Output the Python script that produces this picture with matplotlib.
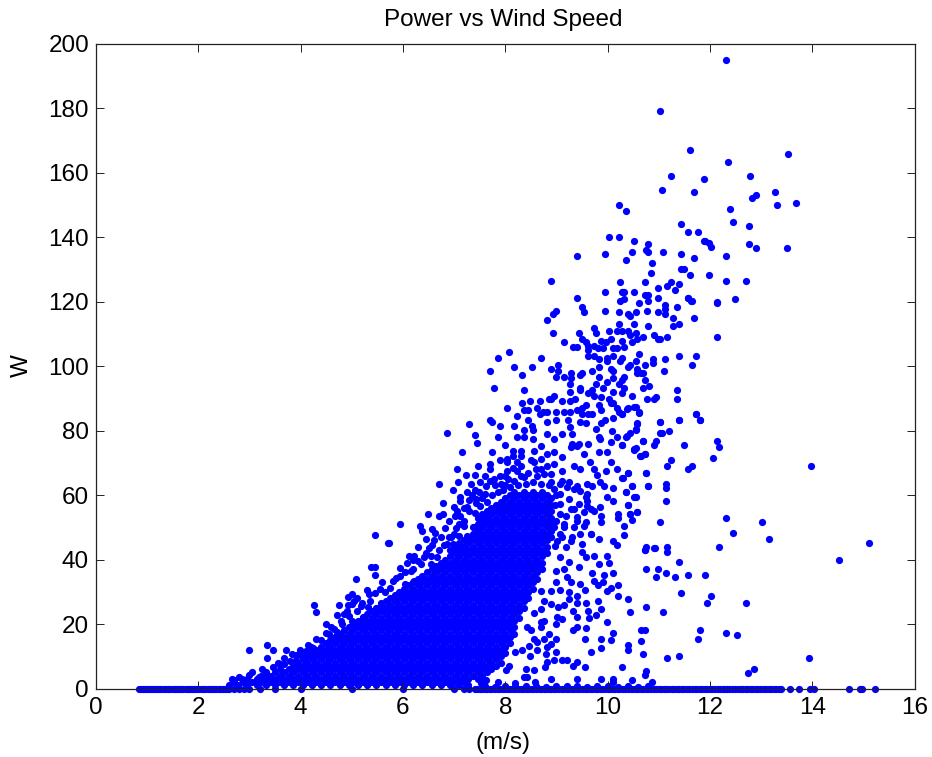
import matplotlib
matplotlib.use("Agg")
import matplotlib.pyplot as plt

title = "Power vs Wind Speed"
x_label = "(m/s)"
y_label = "W"
x_ticks = [0, 2, 4, 6, 8, 10, 12, 14, 16]
y_ticks = [0, 20, 40, 60, 80, 100, 120, 140, 160, 180, 200]

# Points sitting on the zero line
zero_x = [0.85,0.92,1.0,1.08,1.15,1.24,1.33,1.4,1.5,1.58,1.66,1.75,1.83,1.92,2.0,2.1,2.18,2.27,2.35,2.44,2.52,2.6,
          2.7,2.8,2.9,3.0,3.2,3.5,4.0,5.0,6.0,7.0,7.2,7.3,7.4,7.5,7.6,7.7,7.8,7.9,8.0,8.1,8.2,8.3,8.4,8.5,8.6,8.7,8.8,8.9,
          9.0,9.1,9.2,9.3,9.4,9.5,9.6,9.7,9.8,9.9,10.0,10.1,10.2,10.3,10.4,10.5,10.6,10.7,10.8,10.9,11.0,11.1,11.2,11.3,
          11.4,11.5,11.6,11.7,11.8,11.9,12.0,12.1,12.2,12.3,12.38,12.5,12.6,12.7,12.8,12.9,13.0,13.1,13.2,13.3,13.4,
          13.57,13.75,13.96,14.03,14.71,14.93,14.97,15.23,
          0.88,0.96,1.04,1.12,1.2,1.28,1.36,1.45,1.54,1.62,1.7,1.79,1.87,1.96,2.05,2.14,2.22,2.31,2.4,2.48,2.56,
          7.45,7.55,7.65,7.75,7.85,7.95,8.05,8.15,8.25,8.35,8.45,8.55,8.65,8.75,8.85,8.95,9.05,9.15,9.25,9.35,9.45,9.55,9.65,9.75,
          9.85,9.95,10.05,10.15,10.25,10.35,10.45,10.55,10.65,10.75,10.85,10.95,11.05,11.15,11.25,11.35,11.45,11.55,11.65,11.75,
          11.85,11.95,12.05,12.15,12.25,12.34,12.44,12.55,12.65,12.75,12.85,12.95,13.05,13.15,13.25,13.35]
near_zero_x = [7.6,7.8,8.0,8.2,8.4,8.6,8.8,9.0,9.2,9.4,9.6,9.8,10.0,10.2,10.4,10.6,10.8]
near_zero_y = [0.8,0.6,0.9,0.7,0.8,0.9,0.6,0.8,0.7,0.9,0.6,0.8,0.7,0.6,0.8,0.6,0.7]

# Sparse upper points, read as (speed, power)
top_points = [(12.32,195.1),(11.02,179.3),(11.61,167.0),(13.53,165.8),(12.35,163.5),(11.24,158.9),(11.88,158.2),(12.79,158.9),
(11.06,154.7),(11.69,154.1),(13.27,154.1),(12.82,152.3),(12.90,153.0),(13.31,150.1),(13.68,150.6),(12.39,148.8),(10.36,148.2),
(10.23,150.1),(12.46,144.7),(11.43,144.2),(12.76,143.6),(11.58,141.8),(11.77,141.8),(10.51,138.9),(11.88,138.9),(11.91,138.9),
(11.98,138.4),(12.02,137.1),(12.76,137.8),(12.90,136.6),(13.50,136.6),(10.80,137.8),(10.76,136.0),(10.80,135.4),(10.47,135.4),
(11.09,135.4),(11.43,134.8),(12.32,134.3),(11.69,133.6),(10.36,133.0),(10.87,131.9),(11.43,130.1),(11.50,130.1),(10.84,129.0),
(11.61,128.4),(11.98,128.4),(12.32,126.6),(12.71,126.6),(10.73,126.0),(11.24,126.0),(11.17,124.9),(11.39,125.5),(11.32,123.7),
(10.98,124.3),(10.51,123.1),(10.31,123.1),(10.73,122.0),(10.80,122.0),(10.98,121.3),(11.58,121.3),(11.64,120.3),(12.49,120.8),
(12.13,119.8),(10.03,140.1),(10.22,140.1),(9.40,134.2),(9.95,134.9),(8.89,126.6),(10.25,126.0),(9.95,123.1),(10.29,123.1),
(10.33,123.1),(9.40,121.3),(10.25,120.2),(10.33,120.8)]

# Upper middle of the cloud
mid_points = [(10.62,119.6),(10.80,120.2),(9.51,118.4),(9.54,116.7),(9.00,117.3),(8.93,116.2),(8.81,114.4),(9.95,117.3),(10.22,116.7),
(10.40,116.2),(10.44,115.5),(10.55,116.7),(10.77,117.3),(10.98,116.7),(11.13,119.1),(11.13,117.8),(11.13,116.2),(11.35,118.4),
(11.28,114.9),(11.39,113.2),(11.28,112.5),(11.69,114.9),(12.13,119.6),(12.13,109.1),(11.58,121.3),(11.65,120.2),(10.22,113.2),
(10.51,113.2),(10.80,112.5),(8.93,110.3),(9.44,110.3),(9.73,112.0),(9.77,110.3),(10.03,110.9),(10.18,110.9),(10.29,110.9),
(10.40,110.9),(10.44,109.6),(10.55,110.3),(10.58,108.5),(10.69,109.1),(10.91,109.6),(10.98,108.5),(11.02,108.5),(11.17,109.1),
(9.51,108.5),(9.58,107.4),(9.62,106.2),(9.62,105.0),(9.73,106.2),(9.81,105.6),(9.88,107.9),(9.96,107.4),(9.92,105.6),(10.07,108.5),
(10.29,107.9),(10.33,106.1),(10.47,107.4),(9.15,107.4),(9.33,106.1),(9.40,106.1),(10.10,105.6),(10.18,105.6),(8.07,104.4),(7.85,102.6),
(8.70,102.6),(9.62,103.2),(9.73,103.2),(9.84,102.1),(9.99,102.7),(9.99,101.5),(10.10,103.2),(10.29,102.7),(10.25,101.5),(10.62,103.8),
(10.55,101.5),(10.44,100.3),(10.40,99.7),(10.88,102.1),(10.88,100.9),(11.13,102.1),(11.39,103.2),(11.73,103.2),(11.65,100.3),(11.10,98.6),
(10.73,100.3),(10.58,99.1),(10.66,98.0),(10.58,98.0),(10.69,98.0),(8.18,99.7),(8.52,99.7),(7.70,98.6),(8.33,97.3),(8.89,99.1),(9.04,100.3),
(9.04,98.6),(9.00,96.8),(9.15,96.8),(9.29,98.0),(9.29,96.2),(9.26,94.5),(9.26,92.1),(9.47,97.3),(9.51,98.0),(9.69,98.6),(9.84,99.7),
(9.84,96.8),(10.07,99.1),(10.10,98.6),(10.10,96.2),(10.33,96.8),(10.29,95.7),(10.22,94.5),(9.99,95.0),(9.92,93.3),(9.77,94.5),(10.73,95.7),
(10.81,93.9),(10.70,93.3),(7.78,93.3),(8.37,92.7),(9.47,93.3),(9.47,92.7),(9.69,92.7),(9.62,91.6),(9.73,90.9),(10.33,93.3),(10.29,91.6),
(10.10,92.1),(10.48,90.9),(11.35,92.7),(11.35,89.8),(10.77,89.8),(10.91,89.8),(10.95,90.4),(8.96,90.9),(8.89,89.8),(8.85,89.8),(8.48,89.2),
(8.67,89.2),(8.33,88.6),(9.11,89.2),(9.26,89.2),(9.36,89.8),(9.88,90.4),(10.03,89.8),(10.07,88.7),(10.10,88.7),(8.03,86.9),(8.37,86.3),
(8.44,86.3),(8.63,86.9),(8.74,85.7),(8.82,85.7),(8.67,85.2),(9.00,85.7),(9.00,83.4),(9.15,85.7),(9.26,85.7),(9.41,86.3),(9.51,86.9),(9.58,88.0),
(9.51,85.2),(9.62,85.2),(9.69,85.2),(9.84,88.0),(9.88,86.3),(10.18,86.9),(10.22,85.7),(10.29,85.2),(10.40,86.9),(10.55,87.5),(10.62,85.7),
(11.73,85.2),(11.80,83.4),(7.70,83.4),(7.74,82.8),(7.89,81.6),(8.18,81.6),(8.22,84.5),(8.52,81.6),(8.44,83.4),(8.82,82.8),(9.22,83.4),(9.26,81.0),
(9.47,82.8),(9.58,82.3),(9.77,80.5),(9.95,83.4),(9.88,82.3),(10.10,83.9),(10.58,82.3),(11.02,82.8),(11.39,83.4)]

# Shoulder of the cloud above the solid core
shoulder_points = [(6.86,79.2),(7.30,82.1),(7.41,78.7),(7.45,76.3),(7.85,78.0),(8.00,75.7),(8.22,78.0),(8.37,80.2),(8.37,77.9),(8.55,80.2),(8.55,77.4),
(8.82,79.0),(8.95,77.4),(9.11,79.0),(9.31,79.0),(9.31,75.9),(9.44,75.9),(9.62,75.9),(9.83,77.9),(9.86,77.4),(10.09,79.8),(10.18,78.0),(10.29,75.7),
(10.38,78.5),(10.55,80.2),(10.69,76.9),(10.06,76.4),(7.15,73.3),(7.74,73.3),(8.15,73.8),(8.30,73.8),(8.15,72.2),(8.30,72.2),(7.89,70.9),(8.04,71.2),
(8.04,70.2),(8.22,70.2),(8.56,73.8),(8.69,75.3),(8.82,72.8),(8.95,73.3),(9.11,71.7),(9.28,74.8),(9.41,75.3),(9.54,72.8),(9.83,73.3),(9.99,73.3),
(9.65,70.4),(10.06,70.4),(10.51,74.3),(10.74,72.8),(10.64,72.2),(7.06,68.1),(7.47,69.1),(7.70,69.7),(7.70,68.1),(7.23,66.4),(7.41,66.4),(7.78,65.0),
(8.04,67.6),(8.22,67.6),(8.56,70.2),(8.69,71.2),(8.82,69.1),(8.95,69.7),(9.11,67.6),(9.34,69.1),(9.47,68.1),(9.73,68.1),(9.96,67.5),(10.18,68.1),
(10.40,67.0),(10.76,67.0),(9.80,66.4),(9.86,64.0),(10.30,65.2),(10.10,62.2),(10.47,62.8),(6.71,63.5),(7.08,64.0),(6.97,61.6),(7.34,63.5),(7.26,61.1),
(7.63,62.8),(7.41,61.6),(7.49,61.1),(7.91,63.5),(8.17,64.5),(8.37,65.5),(8.63,66.0),(8.89,66.6),(9.11,64.5),(9.24,64.0),(9.41,62.9),(9.60,63.5),
(9.70,62.9),(9.93,62.9),(10.36,61.1),(10.51,59.3),(10.55,59.3),(10.80,62.8),(6.78,57.6),(7.11,59.3),(7.11,58.1),(7.00,56.4),(7.26,56.4),(7.42,58.8),
(7.42,57.6),(9.98,59.3),(10.10,58.3),(9.58,59.3),(9.60,56.7),(9.86,56.2),(9.73,55.2),(10.40,56.9),(10.57,54.7),(10.44,54.0),(10.47,52.3),(10.20,54.0),
(10.20,52.9),(9.87,53.4),(9.87,51.7),(10.32,50.5),(10.32,47.5),(9.34,55.7),(9.18,53.6),(9.41,52.1),(9.58,51.6),(9.15,51.0),(6.49,54.0),(6.71,53.4),
(6.78,54.0),(5.94,51.0),(5.71,45.3),(6.34,50.5),(6.38,48.8),(6.56,49.4),(6.63,48.2),(6.82,49.9),(6.45,46.4),(6.56,44.6),(7.04,49.9),(7.19,50.5),
(7.01,53.6),(7.11,53.6),(7.39,50.0),(7.52,53.1),(7.65,54.2),(7.81,55.2),(6.93,46.9),(7.10,47.4),(7.26,47.4),(6.29,44.0),(6.08,38.9),(6.12,41.2),
(6.22,41.2),(6.41,40.7),(6.67,40.7),(6.87,44.9),(6.97,44.9),(7.13,43.8),(6.15,36.6),(6.35,38.6),(6.54,38.6),(5.86,34.2),(5.75,31.2),(6.04,32.5),
(6.22,33.5),(9.08,63.5),(9.21,62.4),(9.34,61.9),(9.47,61.4),(9.60,60.4),(9.08,60.4),(9.24,58.8),(9.44,57.3),(9.60,58.3),(9.08,57.3),(9.28,55.7),
(9.54,54.7),(9.67,55.7),(9.08,54.2),(9.41,53.1),(9.15,50.0),(9.34,50.0),(9.54,50.5),(9.08,48.0),(9.28,45.9),(9.47,48.0),(9.67,48.0),(9.02,45.9),(9.18,43.8)]

# Points along the left edge of the core
left_points = [(5.46,47.6),(5.72,45.3),(5.38,37.6),(5.46,37.6),(5.46,35.2),(5.08,34.1),(5.01,29.4),(4.93,28.3),(5.05,27.3),(5.34,29.4),(4.27,25.8),(4.31,23.6),
(4.75,25.8),(4.92,25.8),(5.01,26.3),(4.71,22.9),(4.90,24.2),(4.79,21.1),(4.49,20.0),(4.49,17.2),(4.72,17.5),(4.30,15.4),(4.20,13.0),(4.59,14.9),(3.35,13.6),
(3.46,11.9),(3.35,9.5),(2.99,11.9),(3.72,11.9),(3.98,11.9),(3.68,9.5),(3.84,10.8),(3.91,8.7),(4.09,9.0),(3.46,6.6),(3.68,7.7),(2.65,3.1),(2.80,3.7),(2.99,4.2),
(3.19,3.7),(3.32,4.5),(5.18,25.7),(5.31,25.2),(5.57,26.5),(5.01,21.1),(5.21,22.1)]

# Rough upper edge of the core
edge_points = [(3.6,7.5),(3.8,8.5),(4.0,10.5),(4.1,11.5),(4.25,12.5),(4.4,15),(4.55,17),(4.65,18.5),(4.8,20),(4.95,22.5),(5.1,24),(5.2,26.5),(5.35,27),(5.45,29.5),
(5.55,31),(5.65,30),(5.8,33.5),(5.95,35),(6.05,36),(6.2,37),(6.3,39.5),(6.45,42),(6.55,41),(6.7,43),(6.8,44.5),(6.9,47),(7.0,48),(7.1,51),(7.2,52),(7.3,55),(7.4,54.5),
(7.3,58.5),(7.5,56.5),(7.55,59),(7.65,58),(7.6,60.5),(7.75,60),(7.8,63),(7.85,61),(7.95,61.5),(8.0,63),(8.1,62.5),(8.05,65),(8.25,63),(8.3,66),(8.4,63.5),(8.45,67),
(8.55,64),(8.6,68),(8.7,63.5),(8.75,66.5),(8.85,63),(8.95,62),(9.0,60),(8.98,57),(9.0,52),(8.95,50),(8.7,68),(8.9,64),(8.3,69),(8.5,71),(8.15,68.5),(8.0,66),(7.9,66),
(7.6,66),(7.5,64),(7.7,64.5),(7.35,60),(7.2,56),(7.05,55),(6.9,52),(6.6,46),(6.75,47),(6.5,43.5),(6.2,40),(5.95,37.5),(5.6,33),(5.3,30.5),(5.1,28),(4.85,23),(4.6,19),
(4.15,13.5),(3.9,10.5),(3.55,8),(3.25,6),(3.05,5),(2.85,3),(2.7,2.5)]

# Scatter to the lower right of the core
right_points = [(13.97,69.2),(14.53,40.0),(15.12,45.2),(13.01,51.7),(13.16,46.4),(12.46,48.2),(12.32,52.8),(12.17,44.0),(12.06,71.5),(12.17,75.0),(12.13,76.8),
(11.72,85.1),(11.80,83.3),(11.50,75.7),(11.65,69.2),(11.57,68.0),(11.24,71.0),(11.17,69.2),(11.39,83.3),(11.20,79.8),(11.02,79.2),(11.06,79.2),(11.02,82.7),
(10.95,76.8),(10.91,75.7),(10.69,76.8),(10.55,80.4),(10.58,82.2),(10.36,78.0),(10.43,79.2),(10.29,75.7),(10.55,74.5),(10.51,73.9),(10.73,72.8),(10.66,72.2),
(10.62,85.6),(10.51,87.4),(10.38,86.7),(10.29,85.2),(10.76,67.0),(10.40,67.0),(10.29,65.2),(11.14,63.5),(11.14,62.3),(10.80,62.8),(10.47,62.8),(10.36,61.1),
(11.14,58.2),(10.40,57.0),(10.58,54.7),(10.43,54.0),(11.02,51.7),(10.76,44.0),(10.73,42.9),(10.91,43.5),(11.17,44.0),(11.17,42.3),(11.39,39.4),(10.76,37.0),
(10.98,37.0),(10.95,34.7),(11.14,35.9),(11.32,34.7),(11.57,35.2),(11.91,35.2),(11.43,29.5),(12.02,28.8),(11.95,26.5),(12.71,26.5),(10.40,27.7),(10.76,25.3),
(10.44,23.6),(11.09,23.6),(10.66,18.3),(10.73,18.3),(11.80,18.3),(11.76,15.4),(12.32,17.1),(12.53,16.5),(10.66,14.8),(10.40,13.6),(10.40,11.9),(10.69,10.8),
(11.17,9.5),(11.39,10.1),(13.94,9.5),(12.87,6.0),(12.75,4.9),(10.29,6.6),(10.76,5.5),(10.73,4.3),(10.47,2.5),(10.87,1.9),
(8.98,44.3),(9.11,46.9),(9.31,46.9),(9.50,44.9),(9.68,47.9),(9.84,46.4),(10.10,45.9),(10.18,44.6),(10.74,43.0),(10.92,43.5),(9.08,40.7),(9.24,39.4),(9.50,42.3),
(9.57,40.7),(9.73,41.2),(9.83,38.7),(9.99,41.2),(10.03,38.9),(9.00,36.6),(9.15,37.1),(9.44,37.6),(9.70,35.9),(10.10,35.9),(9.94,35.3),(9.00,33.0),(9.21,34.5),
(9.28,33.0),(9.47,32.5),(9.55,30.6),(9.73,33.5),(9.91,33.0),(9.81,32.0),(10.21,32.2),(10.06,31.2),(9.99,30.2),(10.21,28.8),(8.69,30.4),(8.89,30.4),(9.08,30.6),
(9.25,30.1),(9.41,28.8),(8.76,27.3),(8.89,26.3),(9.03,25.2),(9.15,26.0),(9.25,27.7),(9.41,26.5),(9.58,26.5),(9.81,27.1),(8.69,24.7),(8.56,23.4),(9.32,24.2),
(9.41,22.3),(9.62,24.2),(9.64,21.9),(9.77,22.9),(9.88,24.7),(8.43,19.0),(8.50,18.0),(8.69,20.6),(8.76,21.1),(8.69,19.0),(9.02,22.1),(9.11,21.6),(8.99,20.0),
(9.32,18.0),(9.41,19.0),(9.58,18.8),(9.99,20.6),(8.85,16.9),(8.76,15.4),(9.00,15.4),(9.55,15.4),(10.10,17.2),(9.87,15.4),(10.06,14.9),(8.56,15.4),(8.63,14.4),
(8.46,13.3),(8.82,12.8),(8.89,13.8),(8.79,10.7),(8.20,11.3),(8.33,11.8),(8.63,12.0),(9.00,11.3),(9.67,11.3),(9.88,12.5),(8.48,10.1),(8.82,8.2),(8.95,8.7),(9.11,8.7),
(9.21,8.9),(9.41,8.2),(9.33,7.1),(9.55,6.6),(8.77,6.6),(8.40,6.1),(8.56,5.6),(8.37,3.5),(8.43,3.5),(8.59,2.0),(8.89,3.0),(9.40,3.0),(9.88,3.0),(10.10,3.0),(10.10,2.0),
(7.62,2.7),(7.85,2.0),(8.07,7.1),(8.01,5.6),(8.20,1.6),(7.52,1.6)]

# Solid core: estimated power values at each speed column
core_columns = [
(2.60,[1]),(2.69,[2]),(2.78,[1]),(2.87,[2]),(2.96,[1,3]),(3.05,[2]),(3.14,[1,3]),(3.23,[2,4]),(3.32,[1,3,5]),(3.41,[2,4]),(3.50,[1,3,5]),(3.59,[2,4,6]),
(3.68,[1,3,5]),(3.77,[2,4,6]),(3.86,[1,3,5,7]),(3.95,[2,4,6,8]),(4.04,[1,3,5,7,9]),(4.13,[2,4,6,8,10]),(4.22,[1,3,5,7,9,11]),(4.31,[2,4,6,8,10,12]),
(4.40,[1,3,5,7,9,11,13]),(4.49,[2,4,6,8,10,12,14]),(4.58,[1,3,5,7,9,11,13,15]),(4.67,[2,4,6,8,10,12,14,16]),(4.76,[1,3,5,7,9,11,13,15,17]),
(4.85,[2,4,6,8,10,12,14,16,18]),(4.94,[1,3,5,7,9,11,13,15,17,19]),(5.03,[2,4,6,8,10,12,14,16,18,20]),(5.12,[1,3,5,7,9,11,13,15,17,19,21]),
(5.21,[2,4,6,8,10,12,14,16,18,20,22]),(5.30,[1,3,5,7,9,11,13,15,17,19,21,23]),(5.39,[2,4,6,8,10,12,14,16,18,20,22,24]),
(5.48,[1,3,5,7,9,11,13,15,17,19,21,23,25]),(5.57,[2,4,6,8,10,12,14,16,18,20,22,24,26]),(5.66,[1,3,5,7,9,11,13,15,17,19,21,23,25,27]),
(5.75,[2,4,6,8,10,12,14,16,18,20,22,24,26,28]),(5.84,[1,3,5,7,9,11,13,15,17,19,21,23,25,27,29]),(5.93,[2,4,6,8,10,12,14,16,18,20,22,24,26,28,30]),
(6.02,[1,3,5,7,9,11,13,15,17,19,21,23,25,27,29,31]),(6.11,[2,4,6,8,10,12,14,16,18,20,22,24,26,28,30,32]),
(6.20,[1,3,5,7,9,11,13,15,17,19,21,23,25,27,29,31,33]),(6.29,[2,4,6,8,10,12,14,16,18,20,22,24,26,28,30,32,34]),
(6.38,[1,3,5,7,9,11,13,15,17,19,21,23,25,27,29,31,33,35]),(6.47,[2,4,6,8,10,12,14,16,18,20,22,24,26,28,30,32,34,36]),
(6.56,[1,3,5,7,9,11,13,15,17,19,21,23,25,27,29,31,33,35,37]),(6.65,[2,4,6,8,10,12,14,16,18,20,22,24,26,28,30,32,34,36,38]),
(6.74,[1,3,5,7,9,11,13,15,17,19,21,23,25,27,29,31,33,35,37,39]),(6.83,[2,4,6,8,10,12,14,16,18,20,22,24,26,28,30,32,34,36,38,40]),
(6.92,[1,3,5,7,9,11,13,15,17,19,21,23,25,27,29,31,33,35,37,39,41,43]),(7.01,[2,4,6,8,10,12,14,16,18,20,22,24,26,28,30,32,34,36,38,40,42,44]),
(7.10,[1,3,5,7,9,11,13,15,17,19,21,23,25,27,29,31,33,35,37,39,41,43,45]),(7.19,[2,4,6,8,10,12,14,16,18,20,22,24,26,28,30,32,34,36,38,40,42,44,46]),
(7.28,[1,3,5,7,9,11,13,15,17,19,21,23,25,27,29,31,33,35,37,39,41,43,45,47]),(7.37,[4,6,8,10,12,14,16,18,20,22,24,26,28,30,32,34,36,38,40,42,44,46,48,50]),
(7.46,[3,5,7,9,11,13,15,17,19,21,23,25,27,29,31,33,35,37,39,41,43,45,47,49,51,53]),(7.55,[4,6,8,10,12,14,16,18,20,22,24,26,28,30,32,34,36,38,40,42,44,46,48,50,52,54]),
(7.64,[5,7,9,11,13,15,17,19,21,23,25,27,29,31,33,35,37,39,41,43,45,47,49,51,53,55]),(7.73,[6,8,10,12,14,16,18,20,22,24,26,28,30,32,34,36,38,40,42,44,46,48,50,52,54,56]),
(7.82,[7,9,11,13,15,17,19,21,23,25,27,29,31,33,35,37,39,41,43,45,47,49,51,53,55,57]),(7.91,[8,10,12,14,16,18,20,22,24,26,28,30,32,34,36,38,40,42,44,46,48,50,52,54,56,58]),
(8.00,[11,13,15,17,19,21,23,25,27,29,31,33,35,37,39,41,43,45,47,49,51,53,55,57,59]),(8.09,[14,16,18,20,22,24,26,28,30,32,34,36,38,40,42,44,46,48,50,52,54,56,58,60]),
(8.18,[17,19,21,23,25,27,29,31,33,35,37,39,41,43,45,47,49,51,53,55,57,59,61]),(8.27,[22,24,26,28,30,32,34,36,38,40,42,44,46,48,50,52,54,56,58,60]),
(8.36,[25,27,29,31,33,35,37,39,41,43,45,47,49,51,53,55,57,59,61]),(8.45,[28,30,32,34,36,38,40,42,44,46,48,50,52,54,56,58,60]),
(8.54,[31,33,35,37,39,41,43,45,47,49,51,53,55,57,59,61]),(8.63,[34,36,38,40,42,44,46,48,50,52,54,56,58,60]),
(8.72,[37,39,41,43,45,47,49,51,53,55,57,59,61]),(8.81,[42,44,46,48,50,52,54,56,58,60]),(8.90,[47,49,51,53,55,57,59]),
]

plt.rcParams["font.family"] = ["Liberation Sans", "DejaVu Sans"]

W, H = 932, 757
fig = plt.figure(figsize=(W / 100, H / 100), dpi=100)
ax = fig.add_axes([96 / W, 1 - 688.5 / H, (914.5 - 96) / W, (688.5 - 44) / H])

xs = list(zero_x) + list(near_zero_x)
ys = [0] * len(zero_x) + list(near_zero_y)
for group in (top_points, mid_points, shoulder_points, left_points, edge_points, right_points):
    for px, py in group:
        xs.append(px)
        ys.append(py)
for cx, col in core_columns:
    for v in col:
        xs.append(cx)
        ys.append(v)

ax.plot(xs, ys, linestyle="none", marker="o", ms=5.2, mfc="#0000ff", mec="none", clip_on=False, zorder=1)

ax.set_xlim(0, 16)
ax.set_ylim(0, 200)
ax.set_xticks(x_ticks)
ax.set_yticks(y_ticks)
ax.tick_params(direction="in", top=True, right=True, length=6, width=0.7, labelsize=17.5, color="#222222")
ax.tick_params(axis="x", pad=6)
ax.tick_params(axis="y", pad=5)
for s in ax.spines.values():
    s.set_linewidth(0.9)
    s.set_color("#222222")
    s.set_zorder(3)
fig.text(503 / W, 1 - 20 / H, title, ha="center", va="center", fontsize=17.5)
fig.text(503 / W, 1 - 743 / H, x_label, ha="center", va="center", fontsize=17.5)
fig.text(22 / W, 1 - 366 / H, y_label, ha="center", va="center", rotation=90, fontsize=17.5)

fig.savefig("out.png", dpi=100)
